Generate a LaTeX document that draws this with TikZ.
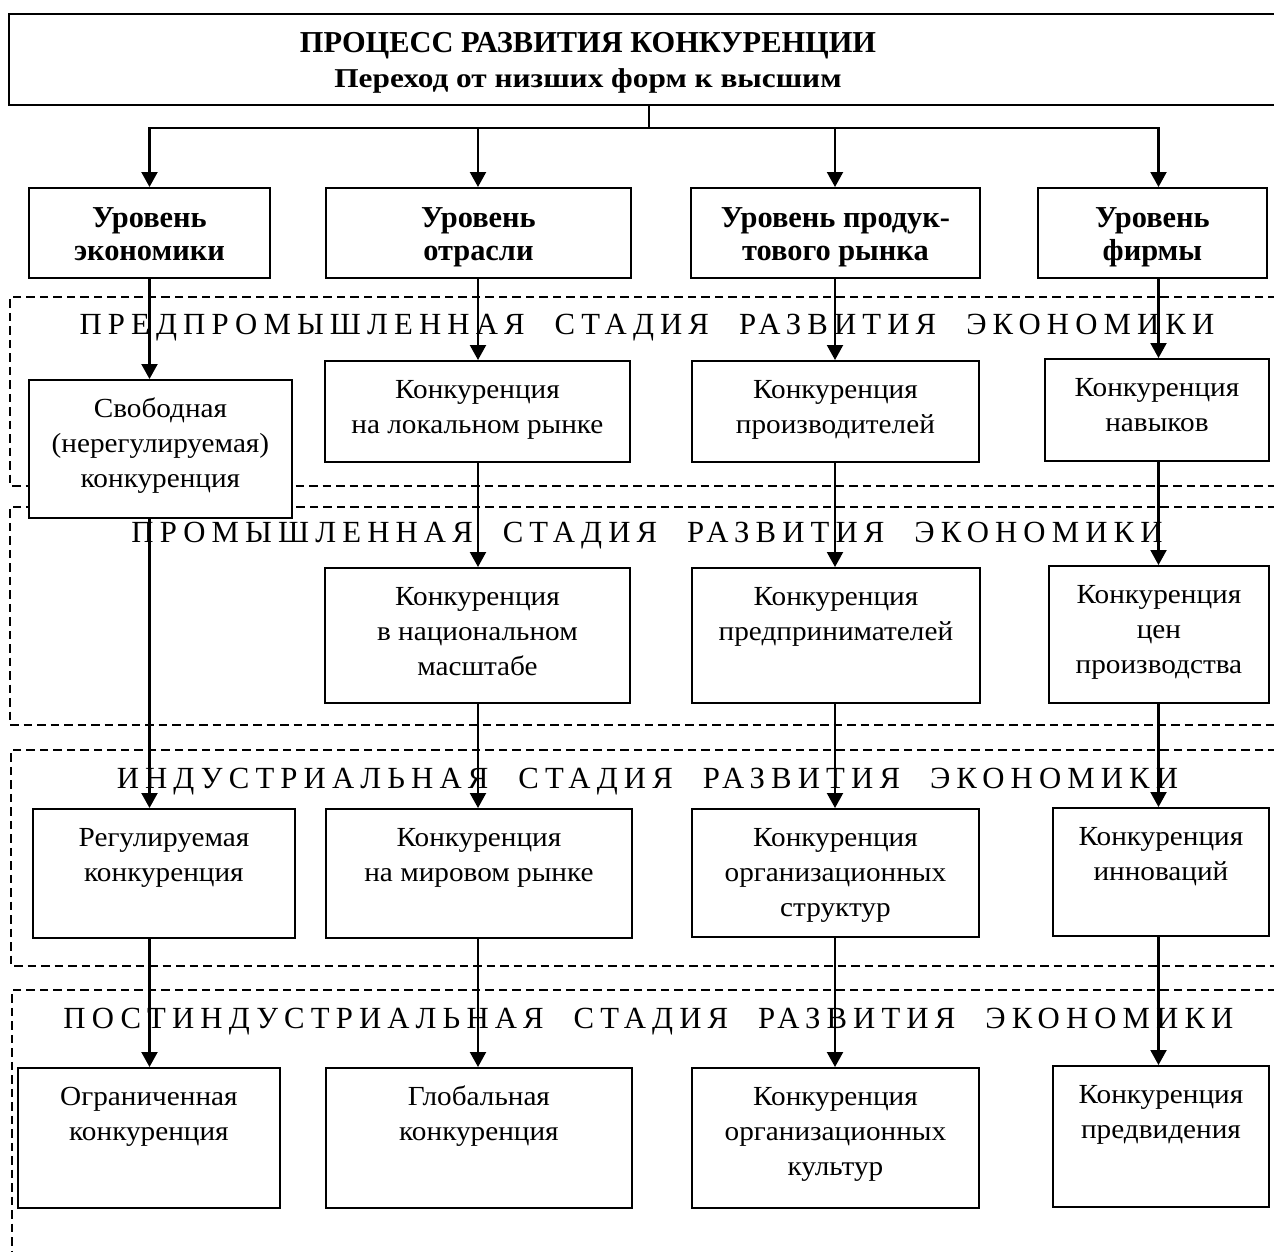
\documentclass[tikz,border=0pt]{standalone}
\usepackage{fontspec}
\setmainfont{Liberation Serif}
\newfontfamily\spacedfont[LetterSpace=20]{Liberation Serif}
\newfontfamily\bodyfont[FakeStretch=1.06]{Liberation Serif}
\newfontfamily\subfont[FakeStretch=1.15]{Liberation Serif}
\usetikzlibrary{arrows.meta}
\newlength\pxu \setlength\pxu{0.2mm}
\newcommand{\cbx}[3]{\parbox[c][#2\pxu][t]{#1\pxu}{\centering\bodyfont\fontsize{15.7}{19.92}\selectfont\rule{0pt}{38\pxu}#3}}
\newcommand{\lbx}[3]{\parbox[c][#2\pxu][t]{#1\pxu}{\centering\bfseries\fontsize{17.3}{18.8}\selectfont\rule{0pt}{40\pxu}#3}}
\newcommand{\wg}{\hspace{30\pxu}}
\begin{document}
\begin{tikzpicture}[x=0.02cm,y=-0.02cm,
  bx/.style={draw, line width=1.1pt, fill=white, inner sep=0pt, anchor=north west},
  ln/.style={line width=1.2pt},
  arr/.style={line width=1.2pt, -{Triangle[length=0.3cm,width=0.32cm]}},
  dsh/.style={line width=0.9pt, dash pattern=on 0.17cm off 0.1cm},
  stg/.style={font=\spacedfont\fontsize{17.5}{20}\selectfont, anchor=base, inner sep=0pt},
  ttl/.style={anchor=base, inner sep=0pt}]
\useasboundingbox (0,0) rectangle (1274,1251);
\clip (0,0) rectangle (1274,1251);
% stage frames
\draw[dsh] (1290,297) -- (10,297) -- (10,486) -- (1290,486);
\draw[dsh] (1290,507) -- (10,507) -- (10,725) -- (1290,725);
\draw[dsh] (1290,750) -- (11,750) -- (11,966) -- (1290,966);
\draw[dsh] (1290,990) -- (12,990) -- (12,1270);
% stage labels
\node[stg] (s1) at (647,334) {ПРЕДПРОМЫШЛЕННАЯ\wg СТАДИЯ\wg РАЗВИТИЯ\wg ЭКОНОМИКИ};
\node[stg] (s2) at (647,542) {ПРОМЫШЛЕННАЯ\wg СТАДИЯ\wg РАЗВИТИЯ\wg ЭКОНОМИКИ};
\node[stg] (s3) at (647.5,788) {ИНДУСТРИАЛЬНАЯ\wg СТАДИЯ\wg РАЗВИТИЯ\wg ЭКОНОМИКИ};
\node[stg] (s4) at (648.5,1028) {ПОСТИНДУСТРИАЛЬНАЯ\wg СТАДИЯ\wg РАЗВИТИЯ\wg ЭКОНОМИКИ};
% header
\node[draw, line width=1.1pt, inner sep=0pt, minimum width=25.64cm, minimum height=1.82cm, anchor=north west] (head) at (8,13) {};
\node[ttl, font=\bfseries\fontsize{17.3}{20}\selectfont] (title) at (588,52) {ПРОЦЕСС РАЗВИТИЯ КОНКУРЕНЦИИ};
\node[ttl, font=\subfont\bfseries\fontsize{15.5}{18}\selectfont] (subtitle) at (588,87) {Переход от низших форм к высшим};
% level boxes
\node[bx] (L1) at (28,187) {\lbx{241}{90}{Уровень\\экономики}};
\node[bx] (L2) at (325,187) {\lbx{305}{90}{Уровень\\отрасли}};
\node[bx] (L3) at (690,187) {\lbx{289}{90}{Уровень продук-\\тового рынка}};
\node[bx] (L4) at (1037,187) {\lbx{229}{90}{Уровень\\фирмы}};
% row 1
\node[bx] (A1) at (28,379) {\cbx{263}{138}{Свободная\\(нерегулируемая)\\конкуренция}};
\node[bx] (B1) at (324,360) {\cbx{305}{101}{Конкуренция\\на локальном рынке}};
\node[bx] (C1) at (691,360) {\cbx{287}{101}{Конкуренция\\производителей}};
\node[bx] (D1) at (1044,358) {\cbx{224}{102}{Конкуренция\\навыков}};
% row 2
\node[bx] (B2) at (324,567) {\cbx{305}{135}{Конкуренция\\в национальном\\масштабе}};
\node[bx] (C2) at (691,567) {\cbx{288}{135}{Конкуренция\\предпринимателей}};
\node[bx] (D2) at (1048,565) {\cbx{220}{137}{Конкуренция\\цен\\производства}};
% row 3
\node[bx] (A3) at (32,808) {\cbx{262}{129}{Регулируемая\\конкуренция}};
\node[bx] (B3) at (325,808) {\cbx{306}{129}{Конкуренция\\на мировом рынке}};
\node[bx] (C3) at (691,808) {\cbx{287}{128}{Конкуренция\\организационных\\структур}};
\node[bx] (D3) at (1052,807) {\cbx{216}{128}{Конкуренция\\инноваций}};
% row 4
\node[bx] (A4) at (17,1067) {\cbx{262}{140}{Ограниченная\\конкуренция}};
\node[bx] (B4) at (325,1067) {\cbx{306}{140}{Глобальная\\конкуренция}};
\node[bx] (C4) at (691,1067) {\cbx{287}{140}{Конкуренция\\организационных\\культур}};
\node[bx] (D4) at (1052,1065) {\cbx{216}{141}{Конкуренция\\предвидения}};
% connectors
\coordinate (cA) at (149.5,0);
\coordinate (cB) at (478,0);
\coordinate (cC) at (835,0);
\coordinate (cD) at (1158.5,0);
\coordinate (hub) at (649,128);
\draw[ln] (head.south -| hub) -- (hub);
\foreach \n/\c in {L1/cA, L2/cB, L3/cC, L4/cD}
  \draw[arr] (hub) -| (\n.north -| \c);
\foreach \a/\b/\c in {L1/A1/cA, A1/A3/cA, A3/A4/cA,
                      L2/B1/cB, B1/B2/cB, B2/B3/cB, B3/B4/cB,
                      L3/C1/cC, C1/C2/cC, C2/C3/cC, C3/C4/cC,
                      L4/D1/cD, D1/D2/cD, D2/D3/cD, D3/D4/cD}
  \draw[arr] (\a.south -| \c) -- (\b.north -| \c);
\end{tikzpicture}
\end{document}
